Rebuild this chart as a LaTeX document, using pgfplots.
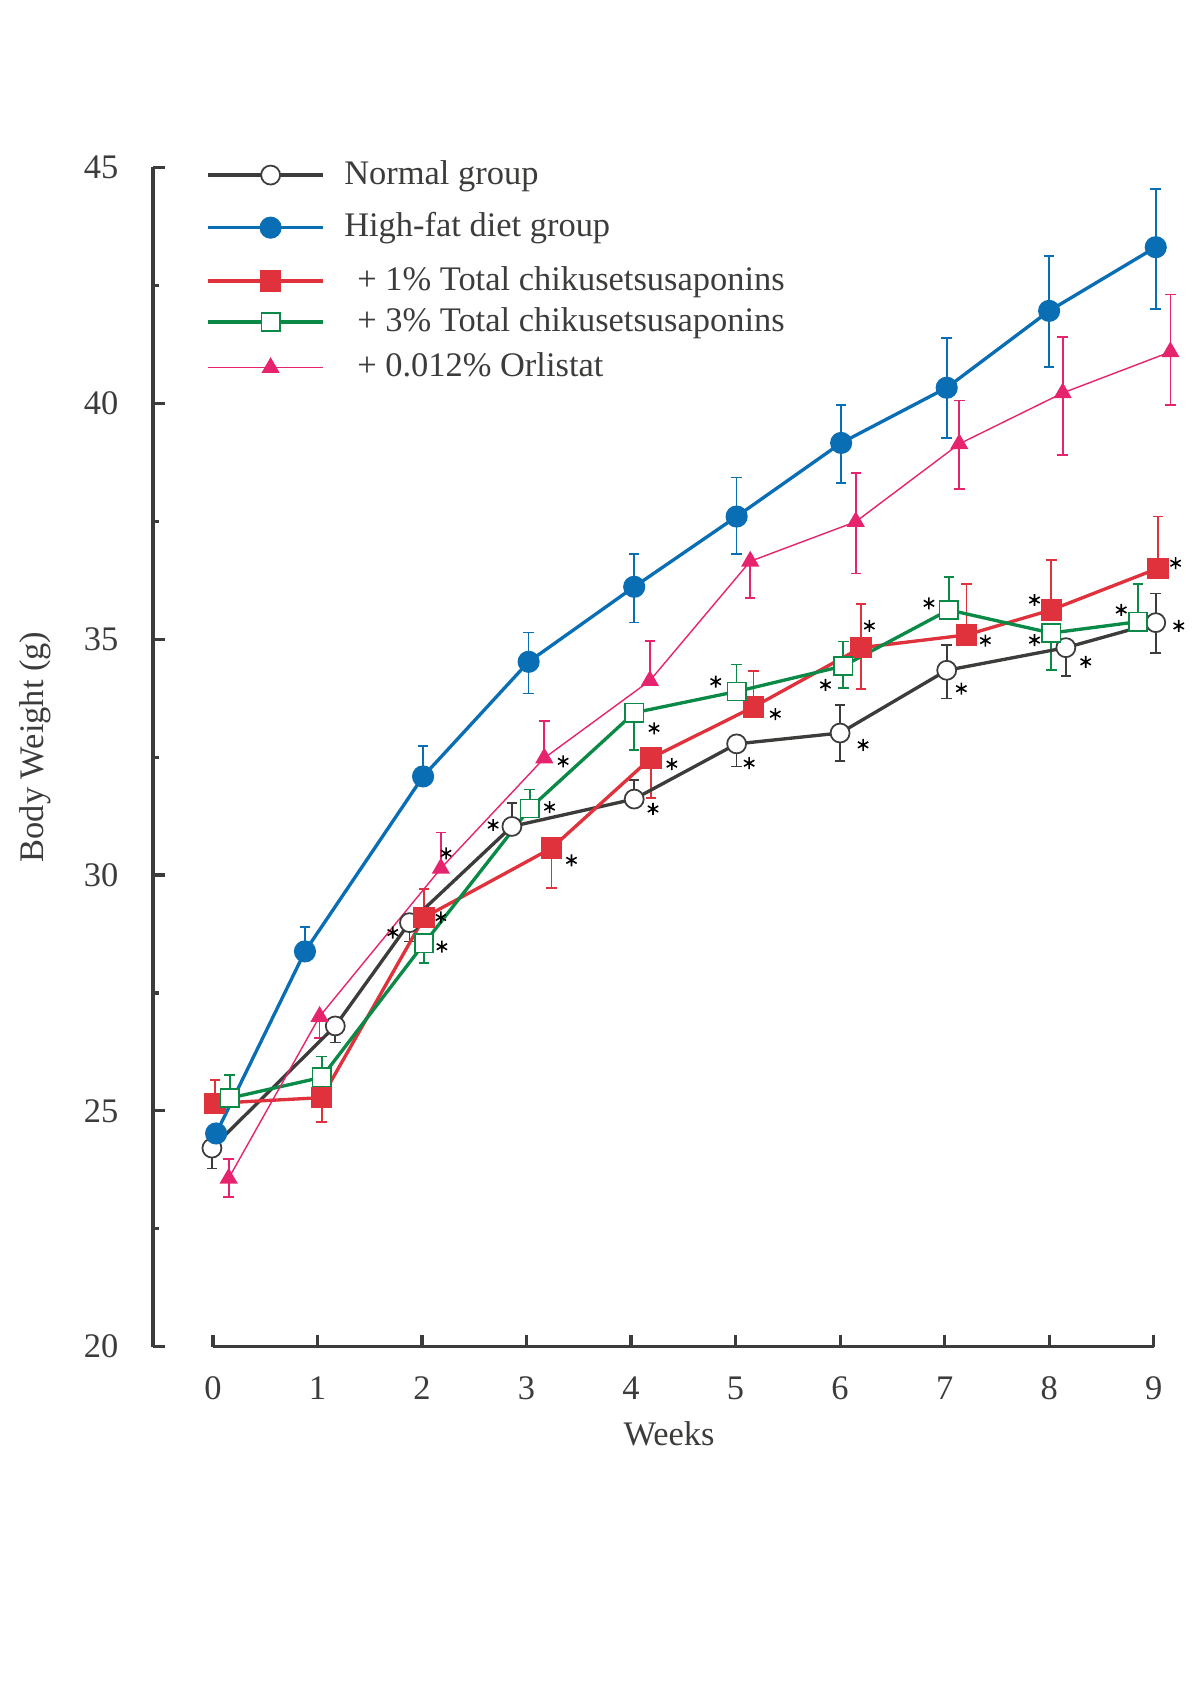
\documentclass[border=0pt]{standalone}
\usepackage{fontspec}
\setmainfont{Liberation Serif}
\usepackage{pgfplots}
\usepackage{pgfplotstable}
\pgfplotsset{compat=1.18}

\definecolor{cnorm}{RGB}{60,60,58}
\definecolor{chfd}{RGB}{10,110,180}
\definecolor{cone}{RGB}{224,50,60}
\definecolor{cthree}{RGB}{10,138,70}
\definecolor{corl}{RGB}{230,36,110}

% x = week (with the small horizontal offsets of the figure), y = body weight, ep/em = error up/down
\pgfplotstableread{
x y ep em
-0.01 24.21 0 0.43
1.17 26.80 0 0.35
1.88 28.99 0 0.40
2.86 31.03 0.50 0
4.03 31.61 0.41 0
5.01 32.78 0 0.48
6.00 33.01 0.60 0.60
7.02 34.34 0.53 0.60
8.16 34.82 0 0.60
9.02 35.35 0.62 0.64
}\normaltab

\pgfplotstableread{
x y ep em
0.03 24.52 0 0.37
0.88 28.38 0.52 0
2.01 32.09 0.64 0
3.02 34.52 0.62 0.67
4.03 36.11 0.69 0.76
5.01 37.60 0.83 0.80
6.01 39.16 0.80 0.85
7.02 40.33 1.06 1.06
8.00 41.96 1.17 1.19
9.02 43.31 1.24 1.31
}\hfdtab

\pgfplotstableread{
x y ep em
0.02 25.16 0.50 0
1.04 25.28 0 0.51
2.02 29.10 0.61 0
3.24 30.57 0 0.85
4.19 32.48 0 0.85
5.17 33.56 0.77 0
6.20 34.82 0.93 0.87
7.21 35.09 1.08 0
8.02 35.62 1.06 0
9.04 36.50 1.10 0
}\onetab

\pgfplotstableread{
x y ep em
0.16 25.27 0.49 0
1.04 25.71 0.44 0
2.02 28.55 0 0.42
3.03 31.41 0.40 0
4.03 33.44 0 0.79
5.01 33.89 0.57 0
6.03 34.43 0.52 0.46
7.04 35.62 0.70 0
8.02 35.13 0 0.79
8.85 35.37 0.80 0
}\threetab

\pgfplotstableread{
x y ep em
0.15 23.57 0.41 0.39
1.02 27.00 0 0.45
2.18 30.14 0.76 0
3.17 32.48 0.78 0
4.18 34.12 0.84 0
5.14 36.65 0 0.78
6.15 37.49 1.03 1.10
7.14 39.14 0.92 0.96
8.13 40.22 1.19 1.31
9.16 41.09 1.22 1.13
}\orltab

% significance asterisks
\pgfplotstableread{
x y
1.72 28.78
2.68 31.06
4.21 31.40
5.13 32.37
6.22 32.76
7.16 33.95
8.35 34.52
9.24 35.28
2.18 29.10
3.43 30.31
4.39 32.35
5.38 33.41
6.28 35.28
7.39 34.97
7.86 35.83
9.21 36.61
2.19 28.48
3.22 31.44
4.22 33.11
4.81 34.10
5.86 34.03
6.85 35.76
7.86 34.98
8.69 35.62
2.23 30.46
3.35 32.41
}\startab

\pgfplotsset{
  errs/.style={forget plot, draw=none, mark=none,
    error bars/.cd, y dir=both, y explicit,
    error bar style={draw=#1, solid, line width=0.48pt},
    error mark options={rotate=90, draw=#1, mark size=1.5pt, line width=0.48pt}},
}

\begin{document}
\begin{tikzpicture}
\path[use as bounding box] (0,0) rectangle (120mm,169.8mm);
\begin{axis}[
  at={(15.3mm,35.13mm)}, anchor=south west,
  scale only axis, width=103.2mm, height=117.92mm,
  xmin=-0.574, xmax=9.3, ymin=20, ymax=45,
  clip=false,
  axis x line=bottom, axis y line=left,
  axis line style={-, line width=0.95pt, draw=cnorm},
  x axis line style={shorten <=6.0mm, shorten >=3.14mm},
  xtick={0,1,...,9},
  ytick={20,25,...,45},
  minor ytick={22.5,27.5,...,42.5},
  tick align=inside,
  major tick length=1.2mm, minor tick length=0.6mm,
  every tick/.style={line width=0.9pt, cnorm},
  /pgf/number format/assume math mode=true,
  every tick label/.append style={font=\fontsize{9.8}{11}\selectfont, text=cnorm, inner sep=0pt},
  xticklabel style={anchor=base, yshift=-5.33mm},
  yticklabel style={anchor=east, xshift=-3.4mm},
  xlabel={Weeks}, ylabel={Body Weight (g)},
  every axis x label/.style={at={(axis description cs:0.5,-0.0842)}, anchor=base,
    font=\fontsize{9.8}{11}\selectfont, text=cnorm},
  every axis y label/.style={at={(axis description cs:-0.1063,0.5086)}, rotate=90, anchor=base,
    font=\fontsize{9.8}{11}\selectfont, text=cnorm},
  legend cell align=left,
  legend style={draw=none, fill=none, at={(0.0513,1.0107)}, anchor=north west,
    inner sep=0pt, outer sep=0pt, column sep=2mm, row sep=0pt,
    nodes={inner sep=0pt, outer sep=0pt, text=cnorm, font=\fontsize{9.8}{11}\selectfont}},
  legend image code/.code={\draw[mark repeat=2,mark phase=2,#1]
    plot coordinates {(0mm,0mm) (6.3mm,0mm) (11.5mm,0mm)};},
]
% error bars first, so that markers cover them
\addplot[errs=cnorm] table[x=x, y=y, y error plus=ep, y error minus=em] {\normaltab};
\addplot[errs=chfd] table[x=x, y=y, y error plus=ep, y error minus=em] {\hfdtab};
\addplot[errs=cone] table[x=x, y=y, y error plus=ep, y error minus=em] {\onetab};
\addplot[errs=cthree] table[x=x, y=y, y error plus=ep, y error minus=em] {\threetab};
\addplot[errs=corl] table[x=x, y=y, y error plus=ep, y error minus=em] {\orltab};

% Normal group
\addplot[cnorm, line width=0.95pt, mark=*, mark size=2.7pt,
  mark options={fill=white, draw=cnorm, line width=0.5pt}]
  table[x=x, y=y] {\normaltab};
\addlegendentry[text height=2.92mm, text depth=1.12mm]{Normal group}

% High-fat diet
\addplot[chfd, line width=0.95pt, mark=*, mark size=2.95pt,
  mark options={fill=chfd, draw=chfd, line width=0.4pt}]
  table[x=x, y=y] {\hfdtab};
\addlegendentry[text height=4.14mm, text depth=2.34mm]{High-fat diet group}

% + 1%
\addplot[cone, line width=0.95pt, mark=square*, mark size=2.85pt,
  mark options={fill=cone, draw=cone, line width=0.4pt}]
  table[x=x, y=y] {\onetab};
\addlegendentry[text height=3.0mm, text depth=1.2mm]{\hspace*{1.3mm}+ 1\% Total chikusetsusaponins}

% + 3%
\addplot[cthree, line width=0.95pt, mark=square*, mark size=2.6pt,
  mark options={fill=white, draw=cthree, line width=0.45pt}]
  table[x=x, y=y] {\threetab};
\addlegendentry[text height=2.9mm, text depth=1.1mm]{\hspace*{1.3mm}+ 3\% Total chikusetsusaponins}

% + orlistat
\addplot[corl, line width=0.4pt, mark=triangle*, mark size=2.6pt,
  mark options={fill=corl, draw=corl, line width=0.4pt}]
  table[x=x, y=y] {\orltab};
\addlegendentry[text height=3.46mm, text depth=1.66mm]{\hspace*{1.3mm}+ 0.012\% Orlistat}

% asterisks
\addplot[forget plot, only marks, mark=asterisk, mark size=1.7pt,
  mark options={draw=black, line width=0.45pt}]
  table[x=x, y=y] {\startab};
\end{axis}
\end{tikzpicture}
\end{document}
